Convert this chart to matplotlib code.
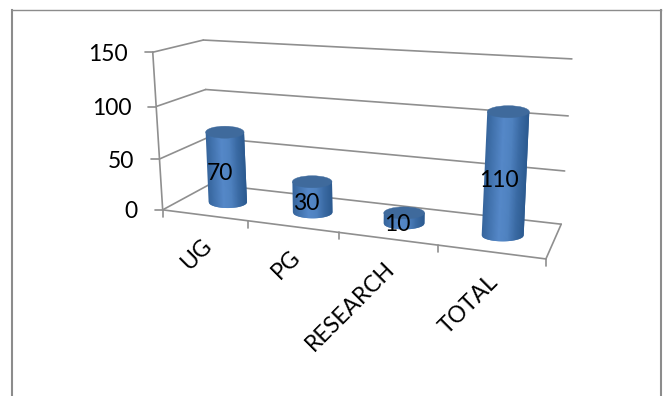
import numpy as np
import matplotlib
matplotlib.use("Agg")
import matplotlib.pyplot as plt
from matplotlib.colors import LinearSegmentedColormap
from matplotlib.patches import Ellipse, Polygon

plt.rcParams["font.family"] = ["Lato", "DejaVu Sans"]

categories = ["UG", "PG", "RESEARCH", "TOTAL"]
values = [70, 30, 10, 110]
y_ticks = [0, 50, 100, 150]

GRID = "#8f8f8f"
BORDER = "#8c8c8c"
TOP_FACE = "#3f6a9c"
body_cmap = LinearSegmentedColormap.from_list(
    "body", ["#36659c", "#4576b2", "#5588c8", "#4f82c0", "#3a6aa3", "#2c5a90"])

# camera calibration: (category pos, depth, value) -> pixel
world_pts = np.array([
    [0, 0, 0], [1, 0, 0], [2, 0, 0], [3, 0, 0], [4, 0, 0],
    [0, 0, 50], [0, 0, 100], [0, 0, 150],
    [0, 1, 0], [0, 1, 50], [0, 1, 100], [0, 1, 150],
    [4, 1, 0], [4, 1, 50], [4, 1, 100], [4, 1, 150],
], dtype=float)
pixel_pts = np.array([
    [163, 209], [248, 221], [339, 233], [438, 246], [546, 259],
    [159, 158], [156, 106], [153, 53],
    [210, 185], [208, 138], [206, 89], [203, 40],
    [561, 223], [565, 171], [568, 116], [572, 59],
], dtype=float)


def fit_camera(world, pixel):
    rows = []
    for (a, b, c), (px, py) in zip(world, pixel):
        rows.append([a, b, c / 50, 1, 0, 0, 0, 0, -px * a, -px * b, -px * c / 50, -px])
        rows.append([0, 0, 0, 0, a, b, c / 50, 1, -py * a, -py * b, -py * c / 50, -py])
    _, _, vt = np.linalg.svd(np.array(rows))
    return vt[-1].reshape(3, 4)


CAM = fit_camera(world_pts, pixel_pts)


def proj(u, d, v):
    p = CAM @ np.array([u, d, v / 50, 1.0])
    return p[0] / p[2], p[1] / p[2]


fig = plt.figure(figsize=(6.65, 3.96), dpi=100)
ax = fig.add_axes([0, 0, 1, 1])
ax.set_xlim(0, 665)
ax.set_ylim(396, 0)
ax.axis("off")

# outer frame, open at the bottom
ax.plot([12, 12], [396, 9.5], color=BORDER, lw=1.5, zorder=1)
ax.plot([661, 661], [396, 9.5], color=BORDER, lw=1.5, zorder=1)
ax.plot([12, 661], [9.5, 9.5], color=BORDER, lw=1.0, zorder=1)


def seg(a, b, lw=1.2):
    ax.plot([a[0], b[0]], [a[1], b[1]], color=GRID, lw=lw, zorder=2, solid_capstyle="round")


# walls
for v in y_ticks:
    seg(proj(0, 0, v), proj(0, 1, v))
    seg(proj(0, 1, v), proj(4, 1, v))
    x, y = proj(0, 0, v)
    seg((x - 8, y), (x, y))
    ax.text(x - 25, y + 2, str(v), ha="right", va="center", fontsize=16.5, color="black", zorder=6)

seg(proj(0, 0, 0), proj(0, 0, y_ticks[-1]))
seg(proj(0, 0, 0), proj(4, 0, 0))
seg(proj(4, 0, 0), proj(4, 1, 0))

# category ticks and rotated labels
for i in range(len(categories) + 1):
    x, y = proj(i, 0, 0)
    seg((x, y), (x, y + 7))
for i, name in enumerate(categories):
    x, y = proj(i + 0.5, 0, 0)
    ax.text(x + 4, y + 27, name, rotation=45, rotation_mode="anchor", ha="right", va="center",
            fontsize=16.5, color="black", zorder=6)

# cylinders, painted left to right so each strip covers the seam of the previous one
RY = 6.0
for i, val in enumerate(values):
    rx = 19.2 + 0.6 * i  # nearer the viewer towards the right
    bx, by = proj(i + 0.5, 0.47, 0)
    tx, ty = proj(i + 0.5, 0.47, val)
    bx += 1.5
    tx += 1.5
    n = 40
    ts = np.linspace(-1, 1, n + 1)
    for k in range(n):
        t_right = ts[min(k + 2, n)]
        arc = np.linspace(ts[k], t_right, 4)
        lower = [(bx + rx * t, by + RY * np.sqrt(1 - t ** 2)) for t in arc[::-1]]
        outline = [(tx + rx * ts[k], ty), (tx + rx * t_right, ty)] + lower
        ax.add_patch(Polygon(outline, closed=True, facecolor=body_cmap((k + 0.5) / n),
                             edgecolor="none", zorder=3))
    ax.add_patch(Ellipse((tx, ty), 2 * rx, 2 * RY, facecolor=TOP_FACE, edgecolor=TOP_FACE, lw=0.3, zorder=4))
    mx, my = proj(i + 0.5, 0.5, val / 2)
    ax.text(mx - 6, my + 7, str(val), ha="center", va="center", fontsize=16.5, color="black", zorder=7)

fig.savefig("out.png", dpi=100, facecolor="white")
